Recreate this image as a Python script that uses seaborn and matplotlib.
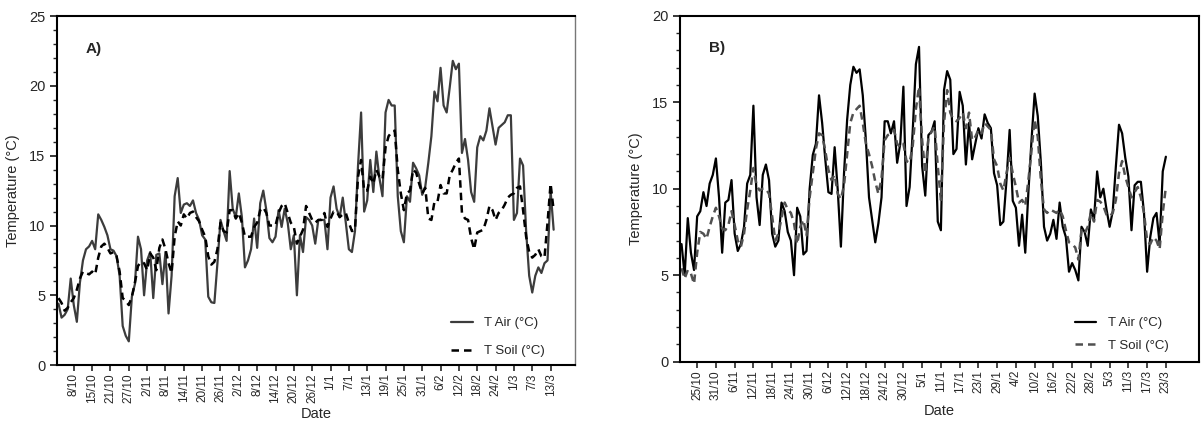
import numpy as np
import seaborn as sns
import matplotlib.pyplot as plt
from matplotlib.ticker import MultipleLocator
from matplotlib.lines import Line2D

# panel A data (one value per record, ticks every 6 records)
air_a = [4.4, 3.4, 3.6, 4.0, 6.2, 4.3, 3.1, 5.9, 7.5, 8.3, 8.5, 8.9, 8.3, 10.8, 10.4, 9.9, 9.3, 8.3, 8.2, 7.8,
         6.4, 2.8, 2.1, 1.7, 4.9, 5.8, 9.2, 8.3, 5.0, 7.5, 8.1, 4.8, 7.9, 8.0, 5.8, 8.1, 3.7, 6.4, 12.1, 13.4,
         10.9, 11.5, 11.6, 11.4,
         11.8, 10.9, 10.4, 9.3, 9.0, 4.9, 4.5, 4.45, 7.3, 10.4, 9.6, 8.9, 13.9, 11.2, 10.6, 12.3, 10.6, 7.0,
         7.5, 8.3, 10.5, 8.4, 11.6, 12.5, 11.1, 9.1, 8.8, 9.2, 11.1, 9.9, 11.2, 10.2, 8.3, 9.3, 5.0, 9.3,
         8.1, 10.6, 10.4, 10.0, 8.7, 10.4,
         10.4, 10.4, 8.3, 12.0, 12.8, 11.2, 10.6, 12.0, 10.2, 8.3, 8.1, 9.6, 14.3, 18.1, 11.0, 11.8, 14.7,
         12.4, 15.3, 13.4, 12.1, 18.1, 19.0, 18.6, 18.6, 12.1, 9.6, 8.8, 12.1, 11.7, 14.5, 14.1, 13.6, 12.2,
         12.8, 14.5, 16.4, 19.6, 18.9, 21.3, 18.6, 18.1,
         19.9, 21.8, 21.2, 21.6, 15.2, 16.2, 14.7, 12.4, 11.7, 15.6, 16.4, 16.1, 16.8, 18.4, 17.1, 15.8,
         17.0, 17.2, 17.4, 17.9, 17.9, 10.4, 10.9, 14.8, 14.3, 9.6, 6.4, 5.2, 6.4, 7.0, 6.6, 7.3, 7.5, 12.5, 9.7]
soil_a = [4.8, 4.45, 3.9, 4.1, 4.5, 4.8, 5.4, 6.2, 6.7, 6.6, 6.5, 6.7, 6.5, 7.7, 8.5, 8.7, 8.4, 8.0, 8.1, 7.8,
          6.7, 4.8, 4.6, 4.3, 4.9, 5.9, 7.1, 7.4, 7.3, 6.8, 8.0, 7.7, 6.8, 8.4, 9.0, 8.3, 7.3, 6.6, 9.2, 10.3,
          10.0, 10.8, 10.5, 10.9,
          11.0, 10.6, 10.3, 9.7, 9.2, 7.8, 7.2, 7.4, 8.3, 10.2, 9.6, 9.5, 11.1, 11.1, 10.5, 10.9, 10.2, 9.2,
          9.2, 9.2, 9.9, 10.2, 11.1, 11.3, 10.9, 10.0, 10.0, 10.0, 10.9, 11.4, 11.6, 10.9, 10.2, 9.9, 8.7, 9.2,
          9.7, 11.4, 10.9, 10.4, 10.2, 10.4,
          10.4, 10.9, 9.9, 10.5, 11.0, 11.0, 10.6, 10.8, 10.9, 10.2, 9.6, 9.7, 13.5, 14.7, 12.5, 12.5, 13.5,
          13.0, 14.0, 13.5, 13.3, 15.6, 16.4, 16.7, 16.8, 14.0, 12.3, 11.1, 12.3, 12.5, 14.0, 13.8, 13.0, 12.3,
          12.7, 10.5, 10.4, 11.7, 11.7, 12.9, 12.3, 12.3,
          13.6, 14.0, 14.5, 14.8, 10.9, 10.5, 10.4, 9.1, 8.3, 9.5, 9.6, 9.7, 10.4, 11.4, 11.1, 10.4, 10.9,
          11.1, 11.5, 12.0, 12.2, 12.3, 12.7, 12.8, 11.1, 9.2, 8.1, 7.7, 7.9, 8.3, 7.8, 7.7, 10.2, 13.0, 11.1]
dates_a = ["8/10", "15/10", "21/10", "27/10", "2/11", "8/11", "14/11", "20/11", "26/11", "2/12", "8/12",
           "14/12", "20/12", "26/12", "1/1", "7/1", "13/1", "19/1", "25/1", "31/1", "6/2", "12/2", "18/2",
           "24/2", "1/3", "7/3", "13/3"]

# panel B data
air_b = [6.8, 5.0, 8.3, 6.3, 5.3, 8.4, 8.7, 9.8, 9.0, 10.3, 10.8, 11.75, 9.5, 6.3, 9.2, 9.35, 10.5, 7.4, 6.4,
         6.8, 7.8, 10.3, 10.8, 14.8, 9.5, 7.9, 10.8, 11.4, 10.5, 7.4, 6.65, 7.0, 9.2, 8.7, 7.5, 7.0, 5.0, 8.9,
         8.4, 6.2, 6.4, 10.0,
         11.95, 12.6, 15.4, 13.8, 11.7, 9.8, 9.7, 12.4, 9.9, 6.65, 10.9, 14.0, 16.0, 17.05, 16.7, 16.9, 15.4,
         12.8, 9.5, 8.2, 6.9, 8.0, 9.5, 13.9, 13.9, 13.2, 13.9, 11.5, 12.6, 15.9, 9.0, 10.1, 13.4, 17.2, 18.2,
         11.3, 9.6, 13.1, 13.3, 13.9,
         8.1, 7.6, 15.7, 16.8, 16.3, 12.0, 12.3, 15.6, 14.8, 11.4, 13.8, 11.7, 12.6, 13.5, 12.9, 14.3, 13.8,
         13.5, 10.9, 10.2, 7.9, 8.1, 10.5, 13.4, 9.3, 8.9, 6.7, 8.5, 6.3, 9.8, 12.8, 15.5, 14.2, 11.5, 7.8, 7.0,
         7.4, 8.2, 7.1, 9.2, 7.8,
         7.2, 5.2, 5.7, 5.3, 4.7, 7.8, 7.5, 6.7, 8.8, 8.2, 11.0, 9.5, 10.0, 8.8, 7.8, 8.7, 11.3, 13.7, 13.2,
         11.8, 10.7, 7.6, 10.2, 10.4, 10.4, 8.6, 5.2, 7.2, 8.3, 8.6, 6.8, 11.0, 11.85]
soil_b = [5.4, 4.8, 5.3, 5.1, 4.5, 6.3, 7.5, 7.4, 7.1, 7.8, 8.4, 8.9, 8.4, 7.7, 7.6, 7.9, 8.7, 7.9, 7.0, 6.65,
          7.4, 8.8, 9.9, 11.2, 10.2, 9.9, 10.0, 10.0, 9.7, 8.4, 7.0, 7.4, 8.3, 9.2, 8.8, 8.6, 8.0, 6.8, 7.8,
          8.2, 7.3, 9.5,
          10.9, 12.3, 13.2, 13.1, 12.2, 11.1, 10.5, 10.8, 9.7, 9.4, 10.2, 12.0, 13.8, 14.4, 14.6, 14.8, 13.8,
          12.6, 12.0, 11.3, 10.4, 9.7, 10.6, 12.8, 13.1, 13.2, 13.4, 12.6, 12.4, 12.6, 11.6, 11.5, 12.5, 14.6,
          15.9, 12.8, 10.9, 12.9, 13.3, 13.6,
          11.3, 9.35, 13.8, 15.7, 14.4, 14.0, 13.9, 14.1, 14.4, 13.5, 14.4, 12.8, 13.0, 13.4, 13.2, 13.8, 13.6,
          13.4, 11.7, 11.3, 10.3, 9.9, 10.9, 11.8, 10.9, 10.1, 9.2, 9.35, 9.0, 10.5, 12.2, 14.0, 13.0, 10.5,
          8.8, 8.6, 8.8, 8.7, 8.6, 8.8, 8.4,
          7.6, 6.9, 6.8, 6.6, 5.9, 7.6, 7.4, 7.8, 8.6, 8.1, 9.35, 9.25, 9.0, 8.5, 8.4, 8.6, 9.35, 10.9, 11.6,
          10.7, 10.1, 9.5, 9.8, 10.1, 9.5, 8.6, 7.0, 6.8, 7.2, 7.0, 6.5, 8.6, 10.1]
dates_b = ["25/10", "31/10", "6/11", "12/11", "18/11", "24/11", "30/11", "6/12", "12/12", "18/12", "24/12",
           "30/12", "5/1", "11/1", "17/1", "23/1", "29/1", "4/2", "10/2", "16/2", "22/2", "28/2", "5/3",
           "11/3", "17/3", "23/3"]

sns.set_style("ticks")
plt.rcParams['font.family'] = ['Liberation Sans', 'DejaVu Sans']

fig = plt.figure(figsize=(12.02, 4.26), dpi=100)
ax_a = fig.add_axes([0.0474, 0.143, 0.431, 0.819])
ax_b = fig.add_axes([0.5657, 0.151, 0.4318, 0.812])

panels = [
    (ax_a, air_a, soil_a, dates_a, 25, 169.0, "A)", '#3c3c3c', 'black', 1.2, 0.003),
    (ax_b, air_b, soil_b, dates_b, 20, 165.6, "B)", 'black', '#505050', 0.75, 0.01),
]

for ax, air, soil, dates, ymax, xmax, tag, c_air, c_soil, lsp, ly in panels:
    idx = np.arange(len(air))
    sns.lineplot(x=idx, y=air, ax=ax, color=c_air, linewidth=1.6)
    sns.lineplot(x=idx, y=soil, ax=ax, color=c_soil, linewidth=1.8, linestyle=(0, (3, 2)))

    ax.set_xlim(-0.5, xmax)
    ax.set_ylim(0, ymax)
    ax.set_xticks(5 + 6 * np.arange(len(dates)))
    ax.set_xticklabels(dates, rotation=90, fontsize=8.5)
    ax.yaxis.set_major_locator(MultipleLocator(5))
    ax.yaxis.set_minor_locator(MultipleLocator(1))
    ax.tick_params(axis='y', which='major', labelsize=10.5, length=5, width=1.3, direction='out')
    ax.tick_params(axis='y', which='minor', length=3, width=1.0, direction='out')
    ax.tick_params(axis='x', length=4, width=1.2, direction='out', pad=2)
    for s in ax.spines.values():
        s.set_visible(True)
        s.set_linewidth(1.5)
        s.set_color('black')
    ax.set_xlabel("Date", fontsize=10.5, labelpad=3)
    ax.set_ylabel("Temperature (°C)", fontsize=10.5, labelpad=6)
    ax.text(0.055, 0.895, tag, transform=ax.transAxes, fontsize=11, fontweight='bold')

    handles = [Line2D([], [], color=c_air, lw=1.6),
               Line2D([], [], color=c_soil, lw=1.8, linestyle=(0, (3, 2)))]
    ax.legend(handles, ["T Air (°C)", "T Soil (°C)"], loc='lower right', bbox_to_anchor=(0.955, ly),
              frameon=False, fontsize=9.5, handlelength=1.6, handletextpad=0.9,
              labelspacing=lsp, borderpad=0)

ax_a.spines['right'].set_color('#777777')
ax_a.spines['right'].set_linewidth(1.0)

fig.savefig("out.png", dpi=100)
